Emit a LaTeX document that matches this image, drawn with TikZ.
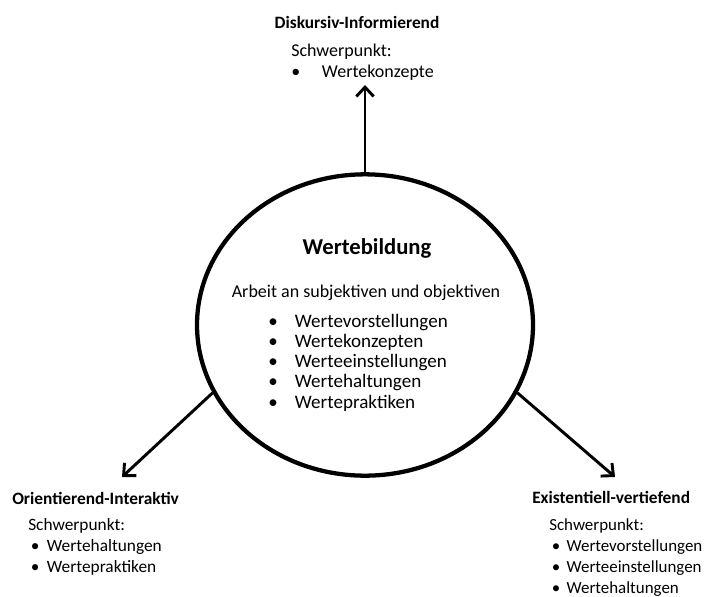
\documentclass[tikz,border=0pt]{standalone}
\usepackage{fontspec}
\setmainfont{Carlito}
\usetikzlibrary{positioning,calc,shapes.geometric,arrows.meta}
\newcommand{\wbitem}[2][20pt]{\makebox[#1][l]{\textbullet}#2}
\tikzset{
  txt/.style={inner sep=0pt, align=left, font=\fontsize{13.5}{15.5}\selectfont},
  ttl/.style={inner sep=0pt, font=\fontsize{13}{15}\selectfont\bfseries},
  pfeil/.style={line width=2.2pt, -{Straight Barb[length=7pt,width=13pt,line width=2.2pt]}}
}
\begin{document}
\begin{tikzpicture}[x=0.75pt,y=-0.75pt]
  \useasboundingbox (0,0) rectangle (709,596);
  % % Circle
  \node[draw, ellipse, line width=3.2pt, minimum width=252pt, minimum height=226pt] (wb) at (365,325) {};
  \node[inner sep=0pt, font=\fontsize{17}{20}\selectfont\bfseries] (wbtitle) at (367,248) {Wertebildung};
  \node[txt] (wbsub) at (366,293) {Arbeit an subjektiven und objektiven};
  \node[txt, anchor=west, font=\fontsize{14.3}{15.2}\selectfont] (wblist) at (268,362.5) {\wbitem{Wertevorstellungen}\\ \wbitem{Wertekonzepten}\\ \wbitem{Werteeinstellungen}\\ \wbitem{Wertehaltungen}\\ \wbitem{Wertepraktiken}};

  % % Top
  \node[ttl] (dititle) at (357,22) {Diskursiv-Informierend};
  \node[txt, anchor=west] (dilist) at (291,62) {Schwerpunkt:\\ \wbitem[23pt]{Wertekonzepte}};
  \coordinate (ditip) at (365,85);

  % % Left
  \node[ttl, anchor=west] (oititle) at (12,498) {Orientierend-Interaktiv};
  \node[txt, anchor=west, font=\fontsize{13}{15.7}\selectfont] (oilist) at (28,547) {Schwerpunkt:\\ \hspace*{2pt}\wbitem[12pt]{Wertehaltungen}\\ \hspace*{2pt}\wbitem[12pt]{Wertepraktiken}};
  \coordinate (oitip) at (122,477);

  % % Right
  \node[ttl, anchor=west] (evtitle) at (532,497) {Existentiell-vertiefend};
  \node[txt, anchor=west, font=\fontsize{12.7}{15.7}\selectfont] (evlist) at (549,557.5) {Schwerpunkt:\\ \hspace*{2pt}\wbitem[11pt]{Wertevorstellungen}\\ \hspace*{2pt}\wbitem[11pt]{Werteeinstellungen}\\ \hspace*{2pt}\wbitem[11pt]{Wertehaltungen}};
  \coordinate (evtip) at (615,477);

  % % Arrows
  \draw[pfeil] (wb.north) -- (ditip);
  \draw[pfeil] (wb.204) -- (oitip);
  \draw[pfeil] (wb.-24) -- (evtip);
\end{tikzpicture}
\end{document}
